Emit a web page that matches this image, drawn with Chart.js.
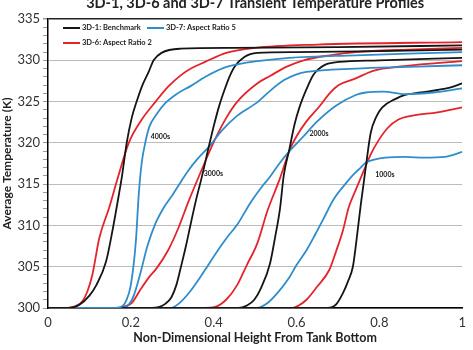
<!DOCTYPE html>
<html><head><meta charset="utf-8">
<script src="https://cdn.jsdelivr.net/npm/chart.js@4"></script>
<style>html,body{margin:0;padding:0;background:#fff}</style>
</head><body>
<canvas id="c" width="473" height="350"></canvas>
<script>
// ---- data (non-dimensional height, average temperature K) ----
const seriesNames = ['3D-1: Benchmark', '3D-7: Aspect Ratio 5', '3D-6: Aspect Ratio 2'];
const timeLabels = ['4000s', '3000s', '2000s', '1000s'];
const timeLabelX = [0.248, 0.376, 0.631, 0.79];
const timeLabelT = [320.8, 316.3, 321.1, 316.1];

const benchX4000 = [0, 0.05, 0.076, 0.10, 0.117, 0.14, 0.155, 0.171, 0.179, 0.19, 0.202, 0.214, 0.228, 0.243, 0.255, 0.274, 0.32, 0.45, 0.7, 1.0];
const benchT4000 = [300, 300, 300.4, 301.5, 302.8, 305.6, 309.2, 313.7, 316.1, 320, 323, 325, 327, 328.6, 330, 330.9, 331.4, 331.5, 331.6, 331.8];
const ar5X4000 = [0, 0.16, 0.179, 0.188, 0.2, 0.212, 0.219, 0.226, 0.236, 0.245, 0.26, 0.283, 0.31, 0.345, 0.38, 0.426, 0.457, 0.505, 0.583, 0.743, 0.87, 1.0];
const ar5T4000 = [300, 300, 300.2, 300.8, 302.8, 308, 313.7, 317.5, 320.3, 322, 323.3, 324.8, 325.9, 326.9, 328, 329.1, 329.5, 329.9, 330.3, 330.6, 330.8, 331.0];
const ar2X4000 = [0, 0.045, 0.065, 0.083, 0.095, 0.107, 0.124, 0.148, 0.167, 0.195, 0.226, 0.26, 0.29, 0.321, 0.345, 0.379, 0.43, 0.5, 0.65, 1.0];
const ar2T4000 = [300, 300, 300.2, 300.8, 302, 304, 308.5, 312.2, 315.5, 320, 322.8, 325, 326.8, 328.2, 329, 329.8, 330.9, 331.5, 331.9, 332.2];

const benchX3000 = [0, 0.25, 0.267, 0.283, 0.298, 0.31, 0.321, 0.333, 0.345, 0.357, 0.372, 0.388, 0.402, 0.414, 0.426, 0.438, 0.45, 0.474, 0.505, 0.6, 0.8, 1.0];
const benchT3000 = [300, 300, 300.1, 300.5, 301.3, 302.8, 305, 307.5, 310.3, 313, 316, 319.5, 322.4, 324.6, 326.4, 328, 329.2, 330.4, 330.9, 331.0, 331.1, 331.3];
const ar5X3000 = [0, 0.18, 0.195, 0.207, 0.224, 0.24, 0.26, 0.28, 0.298, 0.321, 0.338, 0.36, 0.39, 0.42, 0.457, 0.505, 0.536, 0.57, 0.6, 0.624, 0.743, 0.87, 1.0];
const ar5T3000 = [300, 300, 300.4, 301.5, 304.4, 307.5, 310.3, 312.2, 313.5, 315.3, 316.6, 318, 319.6, 321.5, 323.3, 324.9, 326.3, 327.6, 328.3, 328.6, 329, 329.2, 329.4];
const ar2X3000 = [0, 0.165, 0.185, 0.202, 0.224, 0.245, 0.262, 0.29, 0.314, 0.34, 0.369, 0.402, 0.43, 0.457, 0.505, 0.536, 0.575, 0.617, 0.68, 0.743, 0.87, 1.0];
const ar2T3000 = [300, 300, 300.2, 300.6, 302.3, 303.8, 304.8, 307, 309.6, 313, 316.5, 320.3, 323, 325, 327.2, 328.1, 329.2, 330, 330.6, 331, 331.3, 331.5];

const benchX2000 = [0, 0.46, 0.48, 0.498, 0.515, 0.536, 0.548, 0.56, 0.569, 0.583, 0.595, 0.607, 0.624, 0.64, 0.655, 0.671, 0.702, 0.8, 1.0];
const benchT2000 = [300, 300, 300.3, 301, 302.5, 305.4, 308.5, 312, 316, 319.3, 322.2, 324.3, 326.5, 328.2, 329, 329.5, 329.8, 330, 330.3];
const ar5X2000 = [0, 0.295, 0.315, 0.343, 0.379, 0.405, 0.433, 0.457, 0.488, 0.515, 0.536, 0.56, 0.583, 0.617, 0.648, 0.695, 0.743, 0.767, 0.81, 0.862, 0.93, 1.0];
const ar5T2000 = [300, 300, 300.5, 302, 304.6, 306.6, 308.6, 310.1, 312.7, 314.6, 315.9, 317.6, 319, 320.8, 322.5, 324.5, 325.8, 326.1, 326.2, 325.9, 326.1, 326.6];
const ar2X2000 = [0, 0.38, 0.402, 0.43, 0.457, 0.48, 0.505, 0.53, 0.56, 0.583, 0.6, 0.624, 0.655, 0.68, 0.702, 0.743, 0.783, 0.86, 1.0];
const ar2T2000 = [300, 300, 300.1, 301, 302.8, 305.2, 307.8, 311.8, 315.7, 319.1, 320.8, 322.6, 324.4, 326, 327, 327.8, 328.7, 329.3, 329.9];

const benchX1000 = [0, 0.675, 0.695, 0.712, 0.724, 0.736, 0.743, 0.755, 0.767, 0.779, 0.793, 0.807, 0.838, 0.862, 0.9, 0.94, 0.97, 1.0];
const benchT1000 = [300, 300, 300.4, 301.8, 303.2, 305, 307.5, 312.5, 317, 321.2, 323.2, 324.3, 325.3, 325.8, 326.1, 326.4, 326.7, 327.2];
const ar5X1000 = [0, 0.505, 0.53, 0.552, 0.58, 0.6, 0.624, 0.645, 0.664, 0.69, 0.719, 0.74, 0.755, 0.767, 0.79, 0.814, 0.862, 0.91, 0.957, 1.0];
const ar5T1000 = [300, 300, 300.6, 301.7, 303.5, 305.2, 307, 308.9, 310.7, 313.2, 315.1, 316.3, 317, 317.6, 318, 318.2, 318.3, 318.2, 318.3, 318.9];
const ar2X1000 = [0, 0.59, 0.605, 0.624, 0.65, 0.679, 0.695, 0.712, 0.726, 0.743, 0.762, 0.78, 0.798, 0.82, 0.845, 0.88, 0.94, 1.0];
const ar2T1000 = [300, 300, 300.3, 301, 302.6, 304.6, 306.8, 309.4, 312.2, 314.3, 316.6, 318.7, 320.3, 321.8, 322.8, 323.3, 323.7, 324.3];

// ---- styling ----
const colBench = '#151515', colAR5 = '#2f8dcb', colAR2 = '#e5232b';
const pts = (xs, ts) => xs.map((v, i) => ({x: v, y: ts[i]}));
const mk = (label, xs, ts, color) => ({
  label, data: pts(xs, ts), borderColor: color, backgroundColor: color,
  borderWidth: 1.8, pointRadius: 0, pointHoverRadius: 0, fill: false,
  tension: 0.4, cubicInterpolationMode: 'monotone'
});
const datasets = [
  mk(seriesNames[0], benchX4000, benchT4000, colBench),
  mk(seriesNames[1], ar5X4000, ar5T4000, colAR5),
  mk(seriesNames[2], ar2X4000, ar2T4000, colAR2),
  mk(seriesNames[0], benchX3000, benchT3000, colBench),
  mk(seriesNames[1], ar5X3000, ar5T3000, colAR5),
  mk(seriesNames[2], ar2X3000, ar2T3000, colAR2),
  mk(seriesNames[0], benchX2000, benchT2000, colBench),
  mk(seriesNames[1], ar5X2000, ar5T2000, colAR5),
  mk(seriesNames[2], ar2X2000, ar2T2000, colAR2),
  mk(seriesNames[0], benchX1000, benchT1000, colBench),
  mk(seriesNames[1], ar5X1000, ar5T1000, colAR5),
  mk(seriesNames[2], ar2X1000, ar2T1000, colAR2)
];
const seriesColors = [colBench, colAR5, colAR2];

const overlay = {
  id: 'overlay',
  afterDatasetsDraw(chart) {
    const {ctx, chartArea: a, scales: {x, y}} = chart;
    ctx.save();
    ctx.fillStyle = '#222';
    ctx.textBaseline = 'middle';
    ctx.textAlign = 'left';
    ctx.font = 'bold 7px Lato';
    timeLabels.forEach((t, i) => ctx.fillText(t, x.getPixelForValue(timeLabelX[i]), y.getPixelForValue(timeLabelT[i])));
    // legend inside plot area
    ctx.font = 'bold 7.5px Lato';
    seriesNames.forEach((name, i) => {
      const col = i < 2 ? i : 0, row = i < 2 ? 0 : 1;
      const x0 = a.left + 15 + col * 84, y0 = a.top + 9 + row * 15;
      ctx.strokeStyle = seriesColors[i];
      ctx.lineWidth = 2;
      ctx.beginPath(); ctx.moveTo(x0, y0); ctx.lineTo(x0 + 17, y0); ctx.stroke();
      ctx.fillStyle = '#222';
      ctx.fillText(name, x0 + 19, y0);
    });
    ctx.restore();
  }
};

new Chart(document.getElementById('c'), {
  type: 'line',
  data: {datasets},
  plugins: [overlay],
  options: {
    responsive: false, animation: false, devicePixelRatio: 1,
    layout: {padding: {left: 0, right: 5, top: 0, bottom: 0}},
    plugins: {
      legend: {display: false},
      tooltip: {enabled: false},
      title: {
        display: true, fullSize: false,
        text: '3D-1, 3D-6 and 3D-7 Transient Temperature Profiles',
        color: '#222', font: {family: 'Lato', size: 14.5, weight: 'bold'},
        padding: {top: -5, bottom: 6.6}
      }
    },
    scales: {
      x: {
        type: 'linear', min: 0, max: 1,
        afterFit(s) { s.height = 42; },
        ticks: {stepSize: 0.2, padding: 7, color: '#333', font: {family: 'Lato', size: 13},
          callback: v => String(Number(v.toFixed(1)))},
        grid: {display: true, drawOnChartArea: false, drawTicks: false},
        border: {display: true, color: '#000', width: 1.5},
        title: {display: true, text: 'Non-Dimensional Height From Tank Bottom', color: '#222',
          font: {family: 'Lato', size: 12.5, weight: 'bold'}, padding: {top: 0, bottom: 5}}
      },
      y: {
        type: 'linear', min: 300, max: 335,
        afterFit(s) { s.width = 48; },
        ticks: {stepSize: 1, maxTicksLimit: 60, autoSkip: false, padding: 3, color: '#333',
          font: {family: 'Lato', size: 13},
          callback: v => (v % 5 === 0 ? String(v) : '')},
        grid: {
          drawTicks: true, tickLength: 5, tickColor: '#9a9a9a',
          color: c => c.tick && c.tick.value === 335 ? '#222' : (c.tick && c.tick.value % 5 === 0 ? '#bcbcbc' : 'rgba(0,0,0,0)'),
          lineWidth: c => c.tick && c.tick.value === 335 ? 1.5 : 1
        },
        border: {display: true, color: '#000', width: 1.5},
        title: {display: true, text: 'Average Temperature (K)', color: '#222',
          font: {family: 'Lato', size: 12, weight: 'bold'}, padding: {top: 0, bottom: 0}}
      }
    }
  }
});
</script>
</body></html>
